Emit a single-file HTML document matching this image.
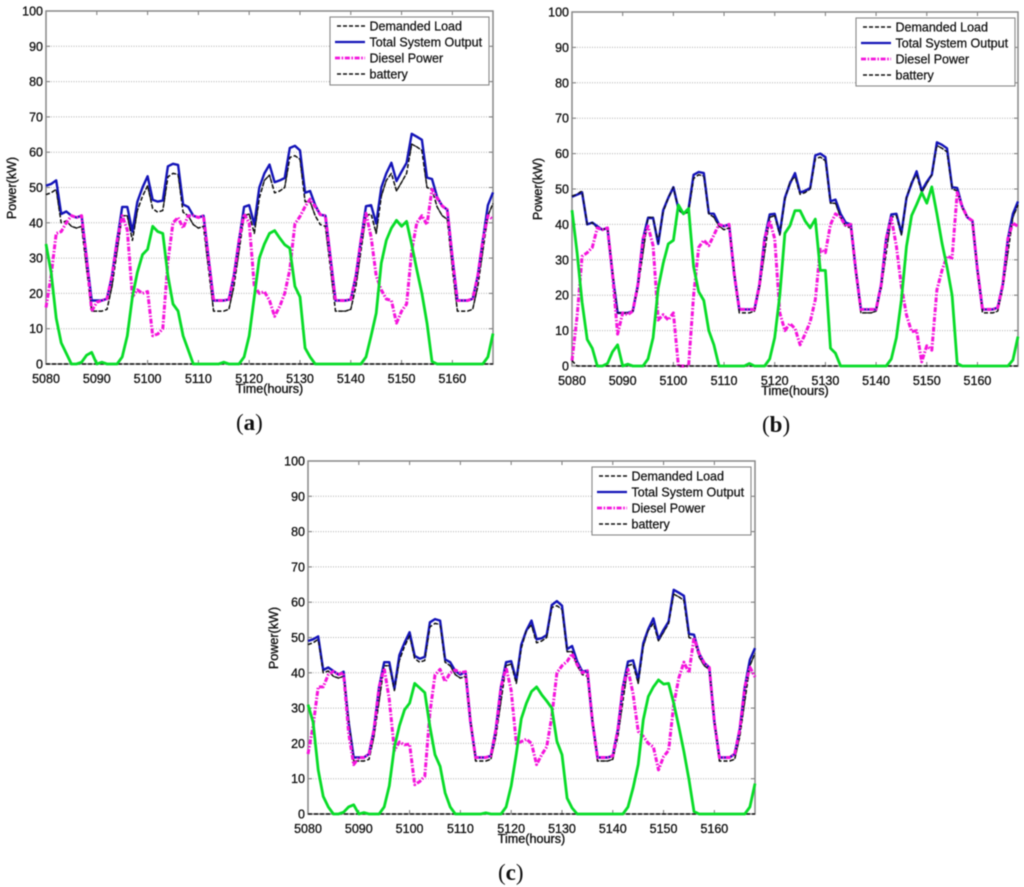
<!DOCTYPE html>
<html lang="en">
<head>
<meta charset="utf-8">
<title>Power output charts</title>
<style>
html,body{margin:0;padding:0;background:#fff;}
#stage{position:relative;width:1024px;height:887px;overflow:hidden;background:#fff;}
svg{position:absolute;left:0;top:0;filter:blur(0.5px);}
text{font-family:"Liberation Sans",Arial,sans-serif;fill:#111;}
.tick{font-size:12.5px;stroke:#111;stroke-width:0.3px;}
.axis-title{font-size:12.6px;stroke:#111;stroke-width:0.35px;}
.legend{font-size:12.5px;stroke:#111;stroke-width:0.25px;}
.cap{font-family:"Liberation Serif",serif;font-size:23px;stroke:none;}
</style>
</head>
<body>
<div id="stage">
<svg id="chart" width="1024" height="887" viewBox="0 0 1024 887" xmlns="http://www.w3.org/2000/svg"></svg>
</div>
<script>
const hourStart = 5080;
const hourEnd = 5168;
const xTicks = [5080, 5090, 5100, 5110, 5120, 5130, 5140, 5150, 5160];
const yTicks = [0, 10, 20, 30, 40, 50, 60, 70, 80, 90, 100];
const legendLabels = ['Demanded Load', 'Total System Output', 'Diesel Power', 'battery'];

const demandedLoad = [
48,48.5,49.5,40,40.5,39,38.5,39,27,15,
15,15,15.5,22,32,42,42,35,43.5,47.5,
50.5,44,43,43.5,53,54,53.7,43,42,39.5,
38.5,39,27,15,15,15,15.5,22,32,42,
42.5,37,47,52,53.5,48.5,49,50,58.5,59,
58,46,46,42,39.5,39,27,15,15,15,
15.5,22,32,42,42.5,37,47.5,52,54,49,
51.5,54,62.3,61.5,60.5,50,49.5,44.5,42,41,
27,15,15,15,15.5,22,32,42,45.5];

const totalA = [
50.5,51,52,42.5,43.2,42,41.5,42,30,18,
18,18,18.5,25,35,44.5,44.5,37.5,46,50,
53.2,46.5,46,46.3,56,56.7,56.4,45.2,44.5,42,
41.5,42,30,18,18,18,18.3,25,35,44.5,
45,39.5,50,54,56.5,51.5,52,52.7,61.2,61.8,
60.5,48.5,49,45,42.3,42,30,18,18,18,
18.3,25,35,44.7,45,39.8,50,54,57,51.8,
54.5,57,65.2,64.4,63.5,52.8,52.4,47.3,44.8,43.7,
30,18,18,18,18.5,25,35,45,48.6];

const dieselA = [
16,25,37,37.5,40,42,41.5,42,30,15,
17.5,18,18.5,25,35,42,38,19,21,20,
20.5,8,8.5,10,29,40,41.5,38.5,42,42,
41.5,42,30,18,18,18,18.3,25,35,42.5,
40,22,20,20.5,18,13.5,16.3,20,26.7,39.7,
41.8,44.6,46.7,44.6,42.3,42,30,18,18,18,
18.3,25,35,42.7,36,25,21,18.4,18,11.6,
15,17,32,40,42,39.5,49.5,47,44.8,43.7,
30,18,18,18,18.5,25,35,42,41];

const renewableA = [
34,26,13,6,3,0,0,0.5,2.5,3.3,
0,0.5,0,0,0,2,8,19,26,31,
32.5,39,37.5,37,25,17,15,8,4,0,
0,0,0,0,0,0.5,0,0,0,2,
8,19,30,34,37,37.8,35.7,33.8,32.8,22,
19,4.5,2,0,0,0,0,0,0,0,
0,0,0,2,8,14.4,28.6,35,38.5,40.7,
39,40.4,33.8,26.7,20,11.6,0.7,0,0,0,
0,0,0,0,0,0,0,2,8.6];

const batteryA = [
0,0,0,0,0,0,0,0,0,0,
0,0,0,0,0,0,0,0,0,0,
0,0,0,0,0,0,0,0,0,0,
0,0,0,0,0,0,0,0,0,0,
0,0,0,0,0,0,0,0,0,0,
0,0,0,0,0,0,0,0,0,0,
0,0,0,0,0,0,0,0,0,0,
0,0,0,0,0,0,0,0,0,0,
0,0,0,0,0,0,0,0,0];

const totalB = [
47.8,48.4,49,40,40.5,39.5,38.5,39,26,15,
15,15,15.5,23,36,41.8,41.8,34.5,44,47.5,
50.5,44.5,43,44.5,54,54.8,54.5,43.2,43,40,
39.5,40,26,16,16,16,16,23,36,42.8,
43,37.5,47.5,51.5,54.5,49,49.5,50.3,59.5,60,
59,46.5,47,43,40.5,40,27,16,16,16,
16,23,36,42.8,43,37.5,47.5,51.5,55,49.5,
52,54,63.2,62.5,61.5,50.5,50.3,45,42,41,
27,16,16,16,16.5,23,36,43,46.5];

const dieselB = [
1.5,14,31,32,33.5,39,38.5,39,26,9,
15,14.5,15.5,23,36,39.5,34,13,14.5,13,
15,0,0,0,20,33.5,35.5,34,37,40,
39.5,40,26,16,16,16,16,23,36,41,
36,15,10,12,10.6,6,9,12.5,18.7,33,
32,40,43,42,39.5,40,27,16,16,16,
16,23,36,41.8,33.8,22.5,14.4,9.7,10,1.2,
5.7,4.5,21.5,27,31,30.5,49,45,42,41,
27,16,16,16,16.5,23,36,40.4,39.4];

const renewableB = [
44,32,18,7.5,5,0,0,0.7,4,6,
0,0.5,0,0,0,2,8,22,29,34.5,
35.5,45.5,43,44.5,28,21,18.5,10,6,0,
0,0,0,0,0,0.7,0,0,0,2,
8,20,37.5,39.6,43.9,43.9,41,39,41.5,27,
27,5,3.6,0,0,0,0,0,0,0,
0,0,0,2,8,18.7,33.8,42.5,45.6,49,
46,50.6,43,34.7,28,20,0.7,0,0,0,
0,0,0,0,0,0,0,1.7,8.3];

const batteryB = [
1.5,0,0,0,0,0,0,0,0,0,
0,0,0,0,0,0,0,0,0,0,
0,0,0,0,0,0,0,0,0,0,
0,0,0,0,0,0,0,0,0,0,
0,0,0,0,0,0,0,0,0,0,
0,0,0,0,0,0,0,0,0,0,
0,0,0,0,0,0,0,0,0,0,
0,0,0,0,0,0,0,0,0,0,
0,0,0,0,0,0,0,0,0];

const totalC = [
49,49.5,50.3,40.8,41.5,40.5,39.5,40.3,26,16,
16,16,17,24,36,43,43,35.5,45,48.5,
51.5,44.8,44,44.5,54.3,55.2,54.8,43.8,43,40.5,
39.5,40.3,26,16,16,16,16.5,24,36,43,
43.3,37.8,48,52,54.8,49.5,49.8,50.7,59.2,60.3,
59,46.7,47.6,43.2,40.4,40.6,26,16,16,16,
16.5,24,36,43.2,43.5,38,48.4,52.4,55.4,49.5,
52.2,54.5,63.5,62.7,61.8,51,50.8,45.5,42.8,41.5,
26,16,16,16,17,24,36,43.7,47];

const dieselC = [
17,25,36,36,39.5,40.4,39.5,40,23,14,
16,16,17,24,36,41.3,32.4,18,20.4,19.6,
19.8,8.3,9.2,10.7,28.6,39.4,41,37.5,40,40.8,
40,40.3,26,16,16,16,16.5,24,36,41.5,
35,20,20.5,21.2,20,14,16.8,19,27.6,40,
42,43.2,45.4,42.3,40,40.6,26,16,16,16,
16.5,24,36,41,34,23.4,22,20,19,12.5,
16.3,18,31,38.5,43,40,50,45.5,42.8,41.5,
26,16,16,16,17,24,36,41.6,38.8];

const renewableC = [
31,26,12.5,5,2,0,0,0.5,2,2.6,
0,0.4,0,0,0,2,8,19,25,29.5,
31.4,37,35.7,34.4,24.8,16.8,13.5,6,2,0,
0,0,0,0,0,0.3,0,0,0,2,
8,17,27,31.4,34.7,36,33.8,32,30,20.6,
16.8,4.5,1.7,0,0,0,0,0,0,0,
0,0,0,2,7.4,14,26.7,33.3,36,38,
36.8,37,31.4,24.8,17.7,9.7,0.7,0,0,0,
0,0,0,0,0,0,0,2,8.6];

const batteryC = [
0,0,0,0,0,0,0,0,0,0,
0,0,0,0,0,0,0,0,0,0,
0,0,0,0,0,0,0,0,0,0,
0,0,0,0,0,0,0,0,0,0,
0,0,0,0,0,0,0,0,0,0,
0,0,0,0,0,0,0,0,0,0,
0,0,0,0,0,0,0,0,0,0,
0,0,0,0,0,0,0,0,0,0,
0,0,0,0,0,0,0,0,0];

const NS = 'http://www.w3.org/2000/svg';
const root = document.getElementById('chart');

function make(parent, tag) {
  const el = document.createElementNS(NS, tag);
  parent.appendChild(el);
  return el;
}

function drawSegment(parent, x1, y1, x2, y2, color, width, dash) {
  const seg = make(parent, 'line');
  seg.setAttribute('x1', x1);
  seg.setAttribute('y1', y1);
  seg.setAttribute('x2', x2);
  seg.setAttribute('y2', y2);
  seg.setAttribute('stroke', color);
  seg.setAttribute('stroke-width', width);
  if (dash) seg.setAttribute('stroke-dasharray', dash);
  return seg;
}

function drawPanel(panelId, box, load, total, diesel, battery, renewable) {
  const g = make(root, 'g');
  
  

  const xScale = h => box.left + (h - hourStart) * (box.right - box.left) / (hourEnd - hourStart);
  const yScale = v => box.bottom - v * (box.bottom - box.top) / 100;

  yTicks.forEach(v => {
    const y = yScale(v);
    if (v > 0 && v < 100) {
      const grid = drawSegment(g, box.left, y, box.right, y, '#b0b0b0', 1, '1 1.5');
      
      
    }
    const tl = drawSegment(g, box.left, y, box.left + 4, y, '#777', 1);
    
    
    const tr = drawSegment(g, box.right, y, box.right - 4, y, '#777', 1);
    
    
    const label = make(g, 'text');
    
    
    label.setAttribute('class', 'tick');
    label.setAttribute('x', box.left - 3);
    label.setAttribute('y', y + 4.5);
    label.setAttribute('text-anchor', 'end');
    label.textContent = v;
  });

  xTicks.forEach(h => {
    const x = xScale(h);
    const tb = drawSegment(g, x, box.bottom, x, box.bottom - 4, '#777', 1);
    
    
    const tt = drawSegment(g, x, box.top, x, box.top + 4, '#777', 1);
    
    
    const label = make(g, 'text');
    
    
    label.setAttribute('class', 'tick');
    label.setAttribute('x', x);
    label.setAttribute('y', box.bottom + 19);
    label.setAttribute('text-anchor', 'middle');
    label.textContent = h;
  });

  const frame = make(g, 'rect');
  
  
  frame.setAttribute('x', box.left);
  frame.setAttribute('y', box.top);
  frame.setAttribute('width', box.right - box.left);
  frame.setAttribute('height', box.bottom - box.top);
  frame.setAttribute('fill', 'none');
  frame.setAttribute('stroke', '#888');
  frame.setAttribute('stroke-width', 1.5);

  const seriesLine = (values, color, width, dash) => {
    const line = make(g, 'polyline');
    line.setAttribute('points', values.map((v, i) => xScale(hourStart + i).toFixed(1) + ',' + yScale(v).toFixed(1)).join(' '));
    line.setAttribute('fill', 'none');
    line.setAttribute('stroke', color);
    line.setAttribute('stroke-width', width);
    line.setAttribute('stroke-linejoin', 'round');
    if (dash) line.setAttribute('stroke-dasharray', dash);
    return line;
  };

  const loadLine = seriesLine(load, '#111', 1.5, '4 2');
  
  
  const totalLine = seriesLine(total, '#1414b8', 2.4);
  
  
  const loadOverlay = seriesLine(load, '#111', 1.2, '4 3');
  
  
  const dieselLine = seriesLine(diesel, '#f414dc', 3, '5 1.6 1.6 1.6');
  
  
  const batteryLine = seriesLine(battery, '#111', 1.5, '4 2');
  
  
  const renewableLine = seriesLine(renewable, '#08dc28', 2.8);
  
  

  const xTitle = make(g, 'text');
  
  
  xTitle.setAttribute('class', 'axis-title');
  xTitle.setAttribute('x', (box.left + box.right) / 2);
  xTitle.setAttribute('y', box.bottom + 29);
  xTitle.setAttribute('text-anchor', 'middle');
  xTitle.textContent = 'Time(hours)';

  const yTitle = make(g, 'text');
  
  
  yTitle.setAttribute('class', 'axis-title');
  yTitle.setAttribute('text-anchor', 'middle');
  yTitle.setAttribute('transform', 'translate(' + (box.left - 30) + ',' + (box.top + 177) + ') rotate(-90)');
  yTitle.textContent = 'Power(kW)';

  const legend = make(g, 'g');
  
  
  const lx = box.left + 284;
  const ly = box.top + 6;
  const legendBox = make(legend, 'rect');
  
  
  legendBox.setAttribute('x', lx);
  legendBox.setAttribute('y', ly);
  legendBox.setAttribute('width', 159);
  legendBox.setAttribute('height', 68);
  legendBox.setAttribute('fill', '#fff');
  legendBox.setAttribute('stroke', '#888');
  legendBox.setAttribute('stroke-width', 1.1);
  const swatchColors = ['#111', '#1414b8', '#f414dc', '#111'];
  const swatchWidths = [1.6, 2.2, 2.8, 1.6];
  const swatchDashes = ['4 2', '', '5 1.6 1.6 1.6', '4 2'];
  const swatchStarts = [7, 5, 5, 7];
  legendLabels.forEach((name, i) => {
    const y = ly + 9 + i * 16;
    const swatch = drawSegment(legend, lx + swatchStarts[i], y, lx + 35, y, swatchColors[i], swatchWidths[i], swatchDashes[i]);
    
    
    const label = make(legend, 'text');
    
    
    label.setAttribute('class', 'legend');
    label.setAttribute('x', lx + 39.5);
    label.setAttribute('y', y + 4.5);
    label.textContent = name;
  });

  const caption = make(g, 'text');
  
  
  caption.setAttribute('class', 'cap');
  caption.setAttribute('x', box.left + 190);
  caption.setAttribute('y', box.bottom + 66);
  const open = make(caption, 'tspan');
  open.textContent = '(';
  const letter = make(caption, 'tspan');
  letter.setAttribute('font-weight', 'bold');
  letter.textContent = panelId;
  const close = make(caption, 'tspan');
  close.textContent = ')';
}

drawPanel('a', {left: 46, right: 493, top: 11, bottom: 364}, demandedLoad, totalA, dieselA, batteryA, renewableA);
drawPanel('b', {left: 572, right: 1018, top: 12, bottom: 366}, demandedLoad, totalB, dieselB, batteryB, renewableB);
drawPanel('c', {left: 308, right: 755, top: 461, bottom: 814}, demandedLoad, totalC, dieselC, batteryC, renewableC);
</script>
</body>
</html>
